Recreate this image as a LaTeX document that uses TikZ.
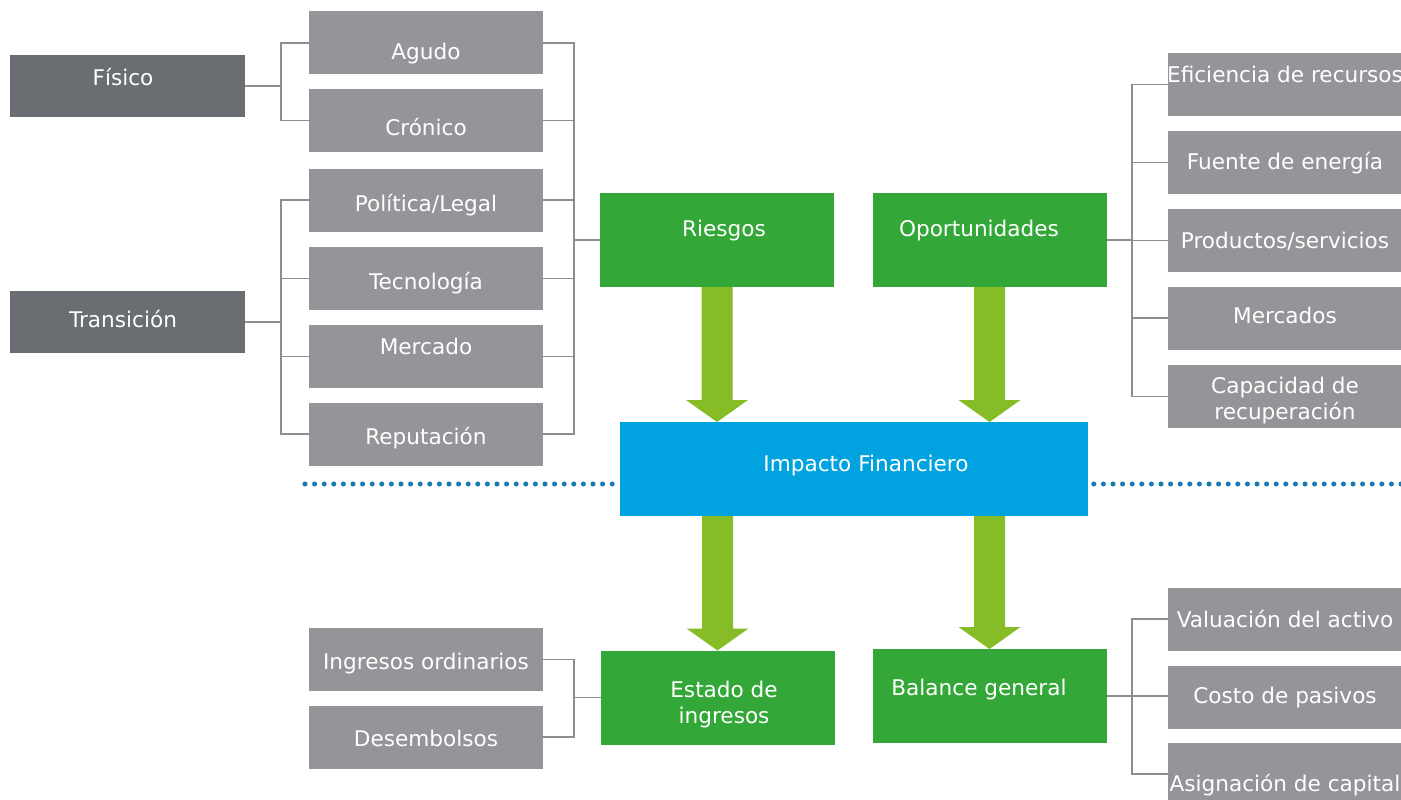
\documentclass[tikz,border=0pt]{standalone}
\usepackage{fontspec}
\setmainfont{DejaVu Sans}
\usetikzlibrary{positioning, calc}

\definecolor{darkbox}{HTML}{6A6D71}
\definecolor{boxgrey}{HTML}{939598}
\definecolor{riskgreen}{HTML}{33A737}
\definecolor{arrowgreen}{HTML}{86BC25}
\definecolor{impactblue}{HTML}{00A3E0}
\definecolor{dotblue}{HTML}{1A7AB8}
\definecolor{linegrey}{HTML}{8C8E90}

\begin{document}
\begin{tikzpicture}[
    x=0.75pt, y=-0.75pt,
    font=\fontsize{16.2}{19.5}\selectfont,
    % ---- boxes ----
    base/.style={inner sep=0pt, outer sep=0pt, text=white},
    dbox/.style={base, fill=darkbox, minimum width=176.25pt, minimum height=46.5pt},
    gbox/.style={base, fill=boxgrey, minimum width=175.5pt, minimum height=47.25pt},
    rbox/.style={base, fill=riskgreen, minimum width=175.5pt, minimum height=70.5pt},
    ibox/.style={base, fill=impactblue, minimum width=351pt, minimum height=70.5pt},
    % ---- texts ----
    txt/.style={text=white, inner sep=0pt, text height=0.76em, text depth=0.24em, yshift=-1.5pt},
    txtb/.style={text=white, inner sep=0pt, align=center, yshift=-1.5pt},
    % ---- lines ----
    link/.style={draw=linegrey, line width=1.1pt},
    dotline/.style={draw=dotblue, line width=3.8pt, line cap=round, dash pattern=on 0pt off 7.2pt}
]
\useasboundingbox (0,0) rectangle (1401,799);

% ---- fat arrow macro ----
\newcommand{\fatarrow}[3]{%
    \path (#3.center |- #1.south) coordinate (fa-top)
          (#3.center |- #2.north) coordinate (fa-tip);
    \fill[arrowgreen] ($(fa-top)+(-15.5,0)$) -- ($(fa-tip)+(-15.5,-22)$)
        -- ($(fa-tip)+(-31,-22)$) -- (fa-tip) -- ($(fa-tip)+(31,-22)$)
        -- ($(fa-tip)+(15.5,-22)$) -- ($(fa-top)+(15.5,0)$) -- cycle;
}

% ---------- bracket columns ----------
\coordinate (lb) at (281,0);
\coordinate (rb) at (574,0);
\coordinate (ob) at (1132,0);

% ---------- left: risk types ----------
\node[dbox, label={[txt, xshift=-3.4pt, yshift=4.5pt]center:Físico}] (fisico) at (127.5,86) {};
\node[dbox, label={[txt, xshift=-3.4pt]center:Transición}] (transicion) at (127.5,322) {};

\node[gbox, label={[txt, yshift=-8.25pt]center:Agudo}] (agudo) at (426,43) {};
\node[gbox, label={[txt, yshift=-7.1pt]center:Crónico}] (cronico) at (426,120.5) {};
\node[gbox, label={[txt, yshift=-4.5pt]center:Política/Legal}] (politica) at (426,200) {};
\node[gbox, label={[txt, yshift=-4.1pt]center:Tecnología}] (tecno) at (426,278.5) {};
\node[gbox, label={[txt, yshift=5.6pt]center:Mercado}] (mercado) at (426,356.5) {};
\node[gbox, label={[txt, yshift=-3.75pt]center:Reputación}] (reput) at (426,434) {};

% ---------- centre ----------
\node[rbox, label={[txt, xshift=5.25pt, yshift=6.75pt]center:Riesgos}] (riesgos) at (717,240) {};
\node[rbox, label={[txt, xshift=-7.9pt, yshift=6.75pt]center:Oportunidades}] (oport) at (989.5,240) {};

% dotted divider
\coordinate (dl) at (305,484);
\coordinate (dr) at (1401,484);
\draw[dotline] (dl) -- (dl -| 620,0);
\draw[dotline] (dr) -- (dr -| 1090,0);

\node[ibox, label={[txt, xshift=9pt, yshift=2.25pt]center:Impacto Financiero}] (impacto) at (854,469) {};

\node[rbox, label={[txtb, xshift=4.9pt, yshift=-3.75pt]center:Estado de\\ingresos}] (estado) at (717.5,697.5) {};
\node[rbox, label={[txt, xshift=-7.9pt, yshift=4.5pt]center:Balance general}] (balance) at (989.5,696) {};

% ---------- right: opportunities ----------
\node[gbox, label={[txt, yshift=5.6pt]center:Eficiencia de recursos}] (eficiencia) at (1285,84.5) {};
\node[gbox, label={[txt, yshift=-1.1pt]center:Fuente de energía}] (fuente) at (1285,162.5) {};
\node[gbox, label={[txt, yshift=-1.9pt]center:Productos/servicios}] (productos) at (1285,240.5) {};
\node[gbox, label={[txt]center:Mercados}] (mercados) at (1285,318) {};
\node[gbox, label={[txtb, yshift=-1.5pt]center:Capacidad de\\recuperación}] (capacidad) at (1285,396.5) {};

% ---------- bottom ----------
\node[gbox, label={[txt, yshift=-3.4pt]center:Ingresos ordinarios}] (ingresos) at (426,659.5) {};
\node[gbox, label={[txt, yshift=-3pt]center:Desembolsos}] (desemb) at (426,737) {};

\node[gbox, label={[txt, yshift=-2.25pt]center:Valuación del activo}] (valuacion) at (1285,619) {};
\node[gbox, label={[txt, yshift=-0.5pt]center:Costo de pasivos}] (costo) at (1285,697) {};
\node[gbox, label={[txt, yshift=-9pt]center:Asignación de capital}] (asignacion) at (1285,774) {};

% ============================================================
%  brackets
% ============================================================

% Físico
\draw[link] (agudo.west) -- (agudo.west -| lb) -- (cronico.west -| lb) -- (cronico.west);
\draw[link] (fisico.east) -- (fisico.east -| lb);

% Transición
\draw[link] (politica.west) -- (politica.west -| lb) -- (reput.west -| lb) -- (reput.west);
\foreach \n in {tecno, mercado}
    \draw[link] (\n.west) -- (\n.west -| lb);
\draw[link] (transicion.east) -- (transicion.east -| lb);

% Riesgos
\draw[link] (agudo.east) -- (agudo.east -| rb) -- (reput.east -| rb) -- (reput.east);
\foreach \n in {cronico, politica, tecno, mercado}
    \draw[link] (\n.east) -- (\n.east -| rb);
\draw[link] (riesgos.west) -- (riesgos.west -| rb);

% Oportunidades
\draw[link] (eficiencia.west) -- (eficiencia.west -| ob) -- (capacidad.west -| ob) -- (capacidad.west);
\foreach \n in {fuente, productos, mercados}
    \draw[link] (\n.west) -- (\n.west -| ob);
\draw[link] (oport.east) -- (oport.east -| ob);

% Estado de ingresos
\draw[link] (ingresos.east) -- (ingresos.east -| rb) -- (desemb.east -| rb) -- (desemb.east);
\draw[link] (estado.west) -- (estado.west -| rb);

% Balance general
\draw[link] (valuacion.west) -- (valuacion.west -| ob) -- (asignacion.west -| ob) -- (asignacion.west);
\draw[link] (balance.east) -- (balance.east -| costo.west);

% ---------- fat arrows ----------
\fatarrow{riesgos}{impacto}{riesgos}
\fatarrow{oport}{impacto}{oport}
\fatarrow{impacto}{estado}{estado}
\fatarrow{impacto}{balance}{balance}

\end{tikzpicture}
\end{document}
